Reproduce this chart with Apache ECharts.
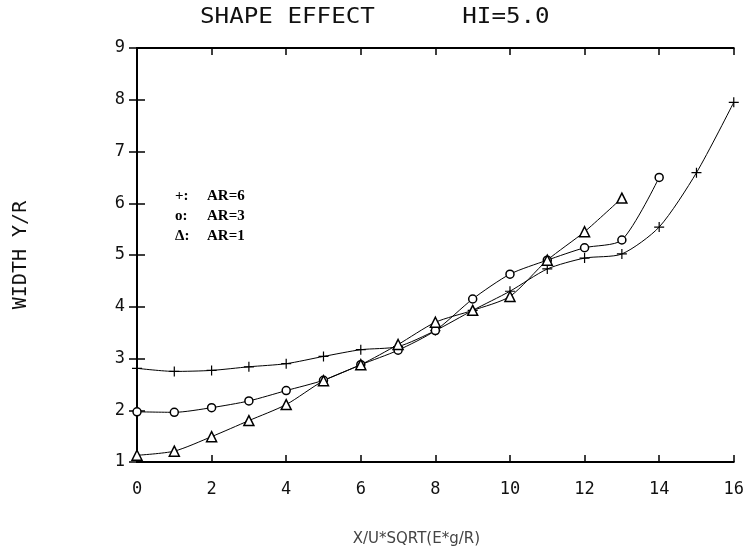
<!DOCTYPE html>
<html>
<head>
<meta charset="utf-8">
<script src="https://cdn.jsdelivr.net/npm/echarts@6/dist/echarts.min.js"></script>
<style>html,body{margin:0;padding:0;background:#fff}#c{width:747px;height:554px}</style>
</head>
<body>
<div id="c"></div>
<script>
var xAR6 = [0,1,2,3,4,5,6,7,8,9,10,11,12,13,14,15,16];
var yAR6 = [2.81,2.75,2.77,2.84,2.90,3.04,3.17,3.23,3.54,3.93,4.30,4.73,4.94,5.02,5.54,6.59,7.95];
var xAR3 = [0,1,2,3,4,5,6,7,8,9,10,11,12,13,14];
var yAR3 = [1.97,1.96,2.05,2.18,2.38,2.58,2.88,3.16,3.54,4.15,4.63,4.90,5.14,5.29,6.50];
var xAR1 = [0,1,2,3,4,5,6,7,8,9,10,11,12,13];
var yAR1 = [1.13,1.21,1.49,1.80,2.11,2.57,2.88,3.27,3.70,3.93,4.20,4.90,5.45,6.10];
var legendSymbols = ['+:', 'o:', '\u0394:'];
var legendNames = ['AR=6', 'AR=3', 'AR=1'];
var xTicks = [0,2,4,6,8,10,12,14,16];
var yTicks = [1,2,3,4,5,6,7,8,9];
var titleText = 'SHAPE EFFECT      HI=5.0';
var xName = 'X/U*SQRT(E*g/R)';
var yName = 'WIDTH Y/R';

function pairs(xs, ys){ return xs.map(function(x,i){ return [x, ys[i]]; }); }

var chart = echarts.init(document.getElementById('c'));
var tickFont = {fontFamily:'DejaVu Sans Mono', fontSize:17, color:'#111'};
var axisLine = {show:true, lineStyle:{color:'#000', width:2}};
var plusPath = 'path://M4.4,0h1.2v10h-1.2z M0,4.4h10v1.2h-10z';

var legendEls = [];
for (var i = 0; i < legendNames.length; i++) {
  legendEls.push({type:'text', left:175, top:189 + i*20, style:{text:legendSymbols[i], font:'bold 15px "Liberation Serif"', fill:'#000'}});
  legendEls.push({type:'text', left:207, top:189 + i*20, style:{text:legendNames[i], font:'bold 15px "Liberation Serif"', fill:'#000'}});
}

chart.setOption({
  animation:false,
  backgroundColor:'#fff',
  grid:{left:137, right:10, top:48, bottom:92},
  xAxis:[{
    type:'value', min:xTicks[0], max:xTicks[xTicks.length-1], interval:2,
    name:xName, nameLocation:'middle', nameGap:70,
    nameTextStyle:{fontFamily:'DejaVu Sans', fontSize:15, color:'#444', padding:[0,38,0,0]},
    axisLine:axisLine, axisTick:{show:true, inside:true, length:7, lineStyle:{color:'#000', width:1.5}},
    axisLabel:Object.assign({margin:19}, tickFont),
    splitLine:{show:false}
  },{
    type:'value', position:'top', min:xTicks[0], max:xTicks[xTicks.length-1], interval:2,
    axisLine:axisLine, axisTick:{show:true, inside:true, length:7, lineStyle:{color:'#000', width:1.5}},
    axisLabel:{show:false}, splitLine:{show:false}
  }],
  yAxis:[{
    type:'value', min:yTicks[0], max:yTicks[yTicks.length-1], interval:1,
    name:yName, nameLocation:'middle', nameGap:106, nameRotate:90,
    nameTextStyle:{fontFamily:'DejaVu Sans Mono', fontSize:20, color:'#111'},
    axisLine:axisLine, axisTick:{show:true, inside:true, length:8, lineStyle:{color:'#000', width:1.5}},
    axisLabel:Object.assign({margin:12}, tickFont),
    splitLine:{show:false}
  },{
    type:'value', position:'right', min:yTicks[0], max:yTicks[yTicks.length-1], interval:1,
    axisLine:axisLine, axisTick:{show:true, inside:true, length:8, lineStyle:{color:'#000', width:1.5}},
    axisLabel:{show:false}, splitLine:{show:false}
  }],
  graphic:[{type:'text', left:200, top:6, scaleX:1.1, style:{text:titleText, font:'22px "DejaVu Sans Mono"', fill:'#111'}}].concat(legendEls),
  series:[{
    type:'line', data:pairs(xAR6, yAR6), smooth:0.25,
    symbol:plusPath, symbolSize:10,
    lineStyle:{color:'#000', width:1}, itemStyle:{color:'#000', borderWidth:0}
  },{
    type:'line', data:pairs(xAR3, yAR3), smooth:0.25,
    symbol:'circle', symbolSize:8,
    lineStyle:{color:'#000', width:1}, itemStyle:{color:'#fff', borderColor:'#000', borderWidth:1.5}
  },{
    type:'line', data:pairs(xAR1, yAR1), smooth:0.25,
    symbol:'triangle', symbolSize:10,
    lineStyle:{color:'#000', width:1}, itemStyle:{color:'#fff', borderColor:'#000', borderWidth:1.5}
  }]
});
</script>
</body>
</html>
